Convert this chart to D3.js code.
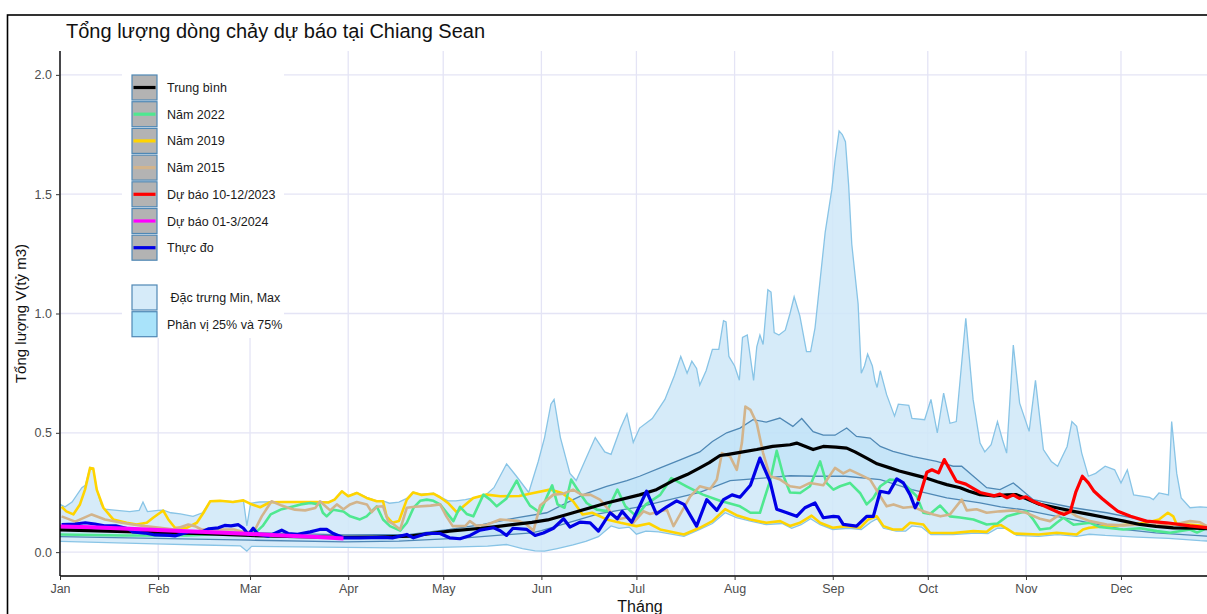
<!DOCTYPE html>
<html>
<head>
<meta charset="utf-8">
<script src="https://cdn.jsdelivr.net/npm/d3@7"></script>
<style>
  body { margin: 0; background: #fff; }
  svg text { font-family: "Liberation Sans", Arial, sans-serif; }
</style>
</head>
<body>
<div id="chart"></div>
<script>
// day-of-year (0 = 1 Jan) and value (tỷ m3)
const maxLine = [[0,0.2],[1.6,0.19],[3.8,0.21],[6.9,0.27],[8,0.28],[9.5,0.355],[10.5,0.35],[11.6,0.265],[13,0.2],[14,0.18],[18,0.175],[22,0.17],[25,0.175],[26.2,0.21],[27.6,0.17],[31,0.175],[32.6,0.176],[35,0.165],[38,0.16],[42,0.15],[45,0.165],[47.4,0.213],[50.5,0.216],[54.6,0.212],[57.9,0.218],[59,0.11],[60.2,0.205],[63,0.21],[70,0.212],[81,0.212],[85,0.21],[86.7,0.222],[89,0.256],[91,0.236],[93.7,0.25],[96.8,0.23],[100,0.215],[102,0.215],[104,0.205],[107,0.21],[109.5,0.225],[111.5,0.252],[114,0.242],[117.9,0.247],[120,0.232],[122.5,0.215],[125,0.215],[128,0.22],[131,0.228],[134.7,0.243],[137,0.27],[141,0.37],[144,0.32],[148,0.25],[151,0.38],[153,0.48],[155,0.62],[156,0.64],[158,0.48],[161,0.33],[163,0.3],[166,0.39],[169,0.48],[172,0.42],[174,0.41],[177,0.52],[179,0.58],[181,0.46],[183,0.52],[187,0.56],[191,0.64],[194,0.74],[196,0.82],[198,0.75],[199.5,0.8],[201,0.77],[202,0.7],[204,0.76],[206,0.85],[208,0.85],[209.5,0.97],[210.3,0.965],[211.2,0.82],[213,0.78],[214.5,0.72],[215.5,0.9],[217,0.91],[219,0.72],[220,0.86],[221,0.91],[222,0.87],[223.5,1.1],[224.5,1.09],[225.5,0.92],[227,0.91],[229,0.93],[230.5,1.0],[231.8,1.07],[233.6,0.99],[235.7,0.84],[237,0.84],[238.4,0.94],[240,1.14],[241.6,1.34],[243.7,1.52],[244.7,1.64],[246,1.765],[247,1.75],[248,1.72],[249,1.54],[250,1.29],[252,1.04],[253,0.75],[254,0.78],[255,0.83],[256.5,0.78],[257.3,0.72],[258,0.69],[259,0.76],[261,0.66],[263.5,0.57],[264.7,0.62],[268,0.615],[269,0.56],[273,0.555],[275,0.64],[277,0.5],[279,0.666],[281,0.54],[283,0.547],[286,0.98],[288.3,0.64],[290.5,0.457],[292,0.42],[294,0.45],[296,0.547],[297.6,0.47],[298.9,0.415],[301,0.868],[303,0.624],[306,0.506],[308,0.72],[310.5,0.43],[313,0.38],[315,0.36],[318,0.443],[319.5,0.547],[321,0.527],[322.6,0.415],[324.7,0.318],[327,0.33],[330,0.36],[333,0.345],[335,0.29],[337,0.345],[339,0.24],[344,0.23],[345.2,0.22],[347,0.248],[350,0.24],[351,0.547],[352.6,0.33],[354,0.227],[356.8,0.186],[360,0.19],[365,0.185]];

const minLine = [[0,0.045],[15,0.04],[30,0.035],[45,0.03],[57,0.026],[59,0.004],[60.5,0.024],[75,0.022],[90,0.02],[105,0.018],[120,0.02],[135,0.025],[141,0.032],[146,0.015],[150,0.005],[153,0.004],[157,0.015],[162,0.03],[166,0.045],[170,0.065],[174,0.11],[176.5,0.1],[179.7,0.105],[182,0.075],[185,0.088],[189,0.085],[197,0.066],[202,0.095],[206,0.12],[210,0.165],[213.6,0.145],[218,0.13],[223,0.115],[228,0.12],[231,0.1],[234,0.115],[237,0.14],[240,0.115],[244,0.095],[249,0.1],[253,0.095],[256,0.125],[258,0.14],[260,0.1],[264,0.088],[267,0.088],[269,0.11],[272,0.105],[275,0.074],[282,0.074],[289,0.08],[293,0.078],[296,0.1],[299,0.1],[302,0.07],[309,0.066],[315,0.073],[321,0.066],[325,0.075],[330,0.07],[340,0.063],[350,0.058],[360,0.048],[365,0.045]];

const q75Line = [[0,0.1],[30,0.092],[60,0.082],[90,0.072],[110.5,0.074],[123,0.095],[133.6,0.116],[144,0.144],[153.7,0.165],[162,0.22],[166,0.245],[172.6,0.276],[179,0.3],[183,0.318],[189.5,0.353],[195.8,0.387],[202,0.42],[206,0.464],[210.5,0.5],[214.7,0.52],[218.8,0.555],[223,0.545],[227.3,0.562],[231.4,0.527],[234.2,0.56],[237.8,0.505],[241,0.49],[244.7,0.49],[248.4,0.52],[251.5,0.485],[255.8,0.478],[259,0.443],[263,0.422],[269.4,0.4],[276.8,0.38],[282,0.36],[284.7,0.36],[288.4,0.318],[292.6,0.27],[296.8,0.262],[301,0.29],[307.3,0.22],[320,0.186],[330.5,0.165],[341,0.137],[351.5,0.116],[362,0.102],[365,0.1]];

const q25Line = [[0,0.065],[30,0.058],[60,0.05],[90,0.043],[107,0.046],[128,0.06],[149,0.081],[152,0.09],[170,0.16],[183,0.19],[202,0.25],[211.6,0.3],[222,0.31],[230.5,0.32],[238,0.318],[248,0.318],[259,0.304],[269,0.262],[280,0.227],[290.5,0.206],[297,0.19],[304,0.178],[314.7,0.15],[325,0.123],[335.7,0.095],[346,0.081],[362,0.067],[365,0.066]];

const meanLine = [[0,0.093],[15,0.088],[30,0.083],[45,0.077],[60,0.07],[75,0.065],[90,0.062],[100,0.063],[110.5,0.067],[123,0.088],[133,0.1],[139,0.109],[149,0.125],[154,0.135],[162,0.165],[172.6,0.206],[183,0.24],[188,0.26],[193.6,0.3],[198,0.325],[202,0.353],[205,0.375],[208.4,0.405],[211,0.41],[214.7,0.418],[220,0.43],[225,0.443],[230.5,0.45],[232.6,0.457],[235,0.445],[237.8,0.43],[241,0.443],[245,0.44],[248.4,0.436],[251,0.42],[254.7,0.394],[258,0.37],[262,0.353],[265,0.34],[269.4,0.325],[273.7,0.31],[277,0.295],[280,0.283],[284.2,0.27],[287,0.255],[290.5,0.241],[295,0.236],[299,0.24],[302,0.241],[305,0.225],[309.4,0.2],[315,0.185],[320,0.171],[325,0.158],[330.5,0.144],[336,0.13],[341,0.116],[346,0.108],[351.5,0.102],[358,0.1],[365,0.098]];

const y2022 = [[0,0.074],[20,0.07],[40,0.07],[55,0.078],[58,0.08],[62,0.085],[64,0.11],[66.5,0.158],[70,0.18],[72,0.186],[76,0.2],[79,0.206],[82,0.2],[83,0.165],[84.2,0.15],[86.3,0.178],[89.5,0.17],[91.6,0.15],[94.7,0.137],[96.8,0.15],[100,0.192],[102,0.137],[104.2,0.109],[107.4,0.09],[109.5,0.123],[111.6,0.185],[113.7,0.215],[115.8,0.22],[117.9,0.215],[120,0.2],[124.2,0.13],[126.3,0.19],[128.4,0.16],[130.5,0.15],[133.7,0.241],[135.8,0.22],[137.9,0.192],[141,0.225],[144.2,0.3],[146.3,0.24],[148.4,0.195],[151.6,0.165],[154,0.24],[155.4,0.28],[157.1,0.2],[159.3,0.186],[161.4,0.304],[164,0.25],[166.3,0.206],[169.5,0.178],[172.7,0.172],[176,0.262],[178.5,0.192],[182,0.15],[185,0.2],[189.5,0.24],[193,0.31],[197.8,0.276],[203,0.241],[208.4,0.215],[214.7,0.192],[218,0.165],[221,0.165],[224.2,0.3],[226.3,0.425],[228.4,0.32],[230.5,0.25],[233.7,0.248],[236.8,0.276],[240,0.38],[242,0.29],[244.2,0.262],[246.3,0.276],[249.4,0.29],[252.6,0.248],[254.7,0.2],[256.8,0.227],[259,0.276],[262,0.304],[265.2,0.3],[267.3,0.276],[270.5,0.234],[272.6,0.165],[274.7,0.16],[277.9,0.195],[281,0.15],[284.2,0.145],[288.4,0.137],[292.6,0.116],[296,0.12],[299,0.15],[303.1,0.165],[305.2,0.171],[307.3,0.137],[309.4,0.095],[312.6,0.1],[314.7,0.123],[316.8,0.144],[320,0.115],[325.2,0.123],[328.3,0.105],[335.7,0.095],[341,0.1],[346.3,0.088],[350.5,0.081],[356.8,0.095],[359,0.082],[362,0.1],[365,0.1]];

const y2019 = [[0.5,0.19],[2,0.171],[4.2,0.158],[6.3,0.2],[7.9,0.262],[9.5,0.353],[10.5,0.35],[11.6,0.262],[13.7,0.186],[16.8,0.137],[21,0.123],[24.2,0.116],[27.4,0.123],[29.4,0.144],[31.6,0.165],[32.6,0.174],[34.2,0.137],[36.3,0.102],[40,0.102],[43.2,0.123],[45.3,0.165],[47.4,0.213],[50.5,0.215],[54.6,0.21],[57.9,0.217],[60,0.203],[63.2,0.188],[66.3,0.209],[70.4,0.21],[81,0.21],[84.7,0.208],[86.7,0.22],[89,0.255],[91,0.234],[93.7,0.248],[96.8,0.227],[100,0.213],[102,0.213],[103.1,0.15],[105,0.123],[107,0.13],[109.5,0.22],[111.5,0.25],[114,0.24],[117.9,0.245],[120,0.23],[122.5,0.206],[125.3,0.167],[127.4,0.192],[130.5,0.227],[134.7,0.241],[139,0.234],[145,0.235],[149.5,0.248],[154.7,0.262],[158.5,0.248],[162,0.213],[165,0.158],[168,0.165],[172.6,0.137],[177,0.123],[182,0.109],[186,0.12],[189.5,0.095],[197,0.074],[202,0.102],[206,0.13],[210,0.18],[213.6,0.155],[218,0.137],[223,0.123],[227.4,0.13],[230.5,0.11],[233.6,0.123],[237.3,0.153],[240,0.123],[244,0.102],[248.4,0.109],[252.6,0.102],[255.2,0.137],[257.9,0.15],[260,0.109],[263,0.095],[266,0.095],[268.4,0.123],[272.6,0.116],[274.7,0.081],[282,0.08],[288.4,0.088],[292.6,0.085],[294.9,0.109],[297,0.114],[301.4,0.078],[309,0.074],[314.7,0.081],[321,0.074],[323,0.095],[325,0.102],[330.5,0.109],[338,0.116],[343,0.123],[347,0.137],[349.8,0.165],[351.5,0.15],[352.6,0.116],[356.5,0.116],[362,0.109],[365,0.11]];

const y2015 = [[0.5,0.15],[4.8,0.128],[10,0.158],[14.2,0.137],[19.5,0.123],[23,0.116],[26.8,0.109],[31.6,0.102],[36,0.095],[40.5,0.116],[42.6,0.109],[44.7,0.095],[55,0.095],[59,0.081],[61.6,0.095],[63.7,0.15],[66.8,0.213],[70,0.195],[72,0.186],[74.2,0.178],[77.4,0.175],[80.6,0.185],[82.1,0.213],[85.3,0.175],[87.4,0.2],[89.5,0.18],[91.6,0.2],[93.7,0.21],[96.9,0.2],[98.4,0.168],[100,0.19],[102,0.192],[103.6,0.13],[105,0.12],[107.4,0.095],[109.5,0.186],[112,0.19],[117,0.195],[120,0.2],[122,0.15],[124,0.109],[128,0.11],[129.4,0.13],[131.5,0.11],[134.7,0.115],[139,0.137],[145,0.13],[147.4,0.115],[149.5,0.09],[151.6,0.195],[155.8,0.241],[159,0.245],[162,0.262],[164.8,0.24],[167.4,0.241],[170.5,0.22],[173.7,0.171],[175.8,0.137],[179,0.145],[181,0.123],[184.2,0.171],[186.3,0.16],[189.5,0.171],[191.6,0.178],[193.7,0.109],[195.8,0.158],[199,0.234],[202,0.276],[205.3,0.265],[207.4,0.304],[209,0.415],[211.6,0.4],[213.7,0.345],[215.3,0.457],[216.4,0.61],[218,0.596],[220,0.54],[222,0.415],[224.2,0.318],[227.4,0.304],[230.5,0.276],[233.7,0.27],[236.8,0.29],[241,0.28],[244.7,0.353],[247.3,0.33],[249.4,0.345],[252.6,0.325],[255.8,0.304],[259,0.234],[261,0.192],[263.2,0.2],[266.3,0.186],[269.4,0.19],[272.6,0.171],[275.8,0.158],[278,0.15],[281,0.158],[284.7,0.22],[286.3,0.175],[289.4,0.18],[292.6,0.165],[296.8,0.171],[301,0.175],[305,0.165],[309.4,0.14],[312.6,0.13],[317.9,0.178],[321,0.15],[325.2,0.13],[330.5,0.116],[335.7,0.112],[341,0.116],[346.3,0.112],[350.5,0.112],[356.8,0.13],[360,0.125],[362,0.11],[365,0.11]];

const observed = [[0.5,0.115],[4.8,0.118],[8,0.123],[11,0.118],[14,0.11],[17.6,0.11],[21.5,0.098],[23,0.085],[26.8,0.08],[30,0.072],[34.7,0.07],[36.3,0.068],[40.5,0.085],[44.7,0.085],[47,0.098],[50,0.102],[52,0.112],[54,0.11],[56.3,0.115],[57.9,0.1],[59.5,0.074],[61,0.1],[62.6,0.074],[65.8,0.067],[70,0.092],[72,0.078],[75,0.075],[79,0.085],[82,0.095],[84.2,0.095],[86.3,0.078],[89.5,0.06],[94.7,0.06],[102,0.062],[105,0.06],[109.5,0.074],[111.6,0.06],[115.8,0.078],[120,0.078],[123,0.06],[126.3,0.056],[129.5,0.07],[132.6,0.092],[136.9,0.102],[139,0.09],[141,0.07],[143,0.1],[147.4,0.095],[150,0.07],[152.6,0.08],[155.8,0.1],[159,0.14],[161,0.105],[164.2,0.126],[167.4,0.123],[170,0.088],[173.7,0.165],[176,0.14],[177.5,0.171],[180.5,0.125],[182.6,0.182],[185.2,0.255],[188.3,0.16],[191.6,0.19],[194.7,0.215],[197,0.2],[201,0.109],[204.2,0.22],[207.4,0.175],[209.5,0.22],[212.2,0.24],[214.7,0.23],[218,0.28],[221,0.394],[224.2,0.295],[226.3,0.18],[229.5,0.165],[232.6,0.15],[235.2,0.186],[238.4,0.206],[241,0.144],[244.2,0.15],[245.8,0.148],[247.3,0.116],[251.5,0.109],[254.7,0.15],[256.8,0.15],[259,0.255],[261.7,0.248],[264.2,0.307],[266.3,0.29],[268.4,0.241],[270,0.186],[271,0.21]];

const forecastOctDec = [[271,0.215],[273.7,0.335],[275.3,0.345],[277.4,0.332],[279.2,0.388],[281,0.345],[283,0.297],[286,0.285],[290.5,0.25],[295,0.236],[296.8,0.243],[299,0.228],[301,0.24],[302.9,0.225],[305,0.232],[307.3,0.213],[311,0.192],[315,0.168],[317,0.158],[319,0.17],[320.7,0.25],[322.8,0.318],[324.7,0.29],[326.5,0.255],[329,0.225],[331.3,0.2],[334,0.171],[338,0.15],[343,0.13],[349.4,0.123],[356.8,0.11],[362,0.103],[365,0.1]];

const forecastJanMar = [[0,0.107],[10,0.104],[20,0.099],[31,0.093],[40,0.088],[50,0.082],[59,0.077],[70,0.07],[80,0.064],[89.5,0.057]];

const yTicks = [0, 0.5, 1, 1.5, 2];

const lineSeries = [
  { name: "Năm 2019", data: y2019, color: "#ffd400", width: 2.6 },
  { name: "Năm 2022", data: y2022, color: "#4fe890", width: 2.6 },
  { name: "Năm 2015", data: y2015, color: "#d2b48c", width: 2.6 },
  { name: "Trung bình", data: meanLine, color: "#000000", width: 3.2 },
  { name: "Thực đo", data: observed, color: "#0000e6", width: 3.2 },
  { name: "Dự báo 10-12/2023", data: forecastOctDec, color: "#ff0000", width: 3.2 },
  { name: "Dự báo 01-3/2024", data: forecastJanMar, color: "#ff00ff", width: 4 }
];

const legendLines = [
  ["Trung bình", "#000000"],
  ["Năm 2022", "#4fe890"],
  ["Năm 2019", "#ffd400"],
  ["Năm 2015", "#d2b48c"],
  ["Dự báo 10-12/2023", "#ff0000"],
  ["Dự báo 01-3/2024", "#ff00ff"],
  ["Thực đo", "#0000e6"]
];
const legendFills = [[" Đặc trưng Min, Max", "#d6ebf9"], ["Phân vị 25% và 75%", "#a9e3fa"]];

const W = 1207, H = 614;
const plot = { left: 60, right: 1216, top: 51, bottom: 576 };

const svg = d3.select("#chart").append("svg")
  .attr("width", W)
  .attr("height", H);

// outer frame
svg.append("rect")
  .attr("x", 7.5).attr("y", 15)
  .attr("width", 1220).attr("height", 620)
  .attr("fill", "none").attr("stroke", "#000").attr("stroke-width", 1.6);

svg.append("text")
  .attr("x", 66).attr("y", 38)
  .attr("font-size", 20)
  .attr("fill", "#111")
  .text("Tổng lượng dòng chảy dự báo tại Chiang Sean");

const yearStart = Date.UTC(2024, 0, 1);
const toDate = d => new Date(yearStart + d * 864e5);

const x = d3.scaleUtc()
  .domain([toDate(0), toDate(365)])
  .range([plot.left, plot.right]);

const y = d3.scaleLinear()
  .domain([-0.1, 2.1])
  .range([plot.bottom, plot.top]);

const monthTicks = d3.utcMonth.range(toDate(0), toDate(366));

// grid
const grid = svg.append("g").attr("stroke", "#e4e4f5").attr("stroke-width", 1.3);
grid.selectAll(".gy").data(yTicks).enter().append("line")
  .attr("x1", plot.left).attr("x2", plot.right)
  .attr("y1", d => y(d)).attr("y2", d => y(d));
grid.selectAll(".gx").data(monthTicks).enter().append("line")
  .attr("x1", d => x(d)).attr("x2", d => x(d))
  .attr("y1", plot.top).attr("y2", plot.bottom);

svg.append("clipPath").attr("id", "clip")
  .append("rect")
  .attr("x", plot.left).attr("y", plot.top)
  .attr("width", plot.right - plot.left).attr("height", plot.bottom - plot.top);

const g = svg.append("g").attr("clip-path", "url(#clip)");

const line = d3.line()
  .x(d => x(toDate(d[0])))
  .y(d => y(d[1]));

// bands
g.append("path")
  .attr("d", line(maxLine.concat(minLine.slice().reverse())) + "Z")
  .attr("fill", "#cfe7f8").attr("fill-opacity", 0.85);
g.append("path")
  .attr("d", line(q75Line.concat(q25Line.slice().reverse())) + "Z")
  .attr("fill", "#a9daf6").attr("fill-opacity", 0.35);

[maxLine, minLine].forEach(s => {
  g.append("path").attr("d", line(s))
    .attr("fill", "none").attr("stroke", "#88c4e6").attr("stroke-width", 1.3);
});
[q75Line, q25Line].forEach(s => {
  g.append("path").attr("d", line(s))
    .attr("fill", "none").attr("stroke", "#4f88b5").attr("stroke-width", 1.3);
});

lineSeries.forEach(s => {
  g.append("path").attr("d", line(s.data))
    .attr("fill", "none")
    .attr("stroke", s.color)
    .attr("stroke-width", s.width)
    .attr("stroke-linejoin", "round");
});

// axes
const xAxis = svg.append("g")
  .attr("transform", `translate(0,${plot.bottom})`)
  .call(d3.axisBottom(x).tickValues(monthTicks).tickFormat(d3.utcFormat("%b")).tickSize(4).tickSizeOuter(0).tickPadding(4));
const yAxis = svg.append("g")
  .attr("transform", `translate(${plot.left},0)`)
  .call(d3.axisLeft(y).tickValues(yTicks).tickFormat(d3.format(".1f")).tickSize(4).tickSizeOuter(0).tickPadding(4));

[xAxis, yAxis].forEach(a => {
  a.select(".domain").attr("stroke", "#000").attr("stroke-width", 1.4);
  a.selectAll(".tick line").attr("stroke", "#333");
  a.selectAll(".tick text").attr("fill", "#4d4d4d").attr("font-size", 12.5)
    .attr("font-family", "'Liberation Sans', Arial, sans-serif");
});
xAxis.select(".domain").attr("d", `M${plot.left},0H${W + 10}`);
yAxis.select(".domain").attr("d", `M0,${plot.top}V${plot.bottom}`);

svg.append("text")
  .attr("x", 640).attr("y", 612)
  .attr("text-anchor", "middle")
  .attr("font-size", 16)
  .attr("fill", "#111")
  .text("Tháng");

svg.append("text")
  .attr("transform", `translate(26,${(plot.top + plot.bottom) / 2}) rotate(-90)`)
  .attr("text-anchor", "middle")
  .attr("font-size", 15)
  .attr("fill", "#111")
  .text("Tổng lượng V(tỷ m3)");

// legend
const lg = svg.append("g");
lg.append("rect")
  .attr("x", 122).attr("y", plot.top)
  .attr("width", 162).attr("height", 287)
  .attr("fill", "#fff");

const keyX = 132, keyW = 25, pitch = 26.7;
legendLines.forEach(([name, color], i) => {
  const cy = 87.5 + i * pitch;
  lg.append("rect")
    .attr("x", keyX).attr("y", cy - 12.5)
    .attr("width", keyW).attr("height", 25)
    .attr("fill", "#b3b3b3").attr("stroke", "#4f88b5").attr("stroke-width", 1.2);
  lg.append("line")
    .attr("x1", keyX + 1.5).attr("x2", keyX + keyW - 1.5)
    .attr("y1", cy).attr("y2", cy)
    .attr("stroke", color).attr("stroke-width", 3.2);
  lg.append("text")
    .attr("x", 167).attr("y", cy + 4.5)
    .attr("font-size", 12.5).attr("fill", "#1a1a1a")
    .text(name);
});
legendFills.forEach(([name, color], i) => {
  const cy = 297.5 + i * pitch;
  lg.append("rect")
    .attr("x", keyX).attr("y", cy - 12.5)
    .attr("width", keyW).attr("height", 25)
    .attr("fill", color).attr("stroke", "#4f88b5").attr("stroke-width", 1.2);
  lg.append("text")
    .attr("x", 167).attr("y", cy + 4.5)
    .attr("font-size", 12.5).attr("fill", "#1a1a1a")
    .attr("xml:space", "preserve")
    .style("white-space", "pre")
    .text(name);
});
</script>
</body>
</html>
